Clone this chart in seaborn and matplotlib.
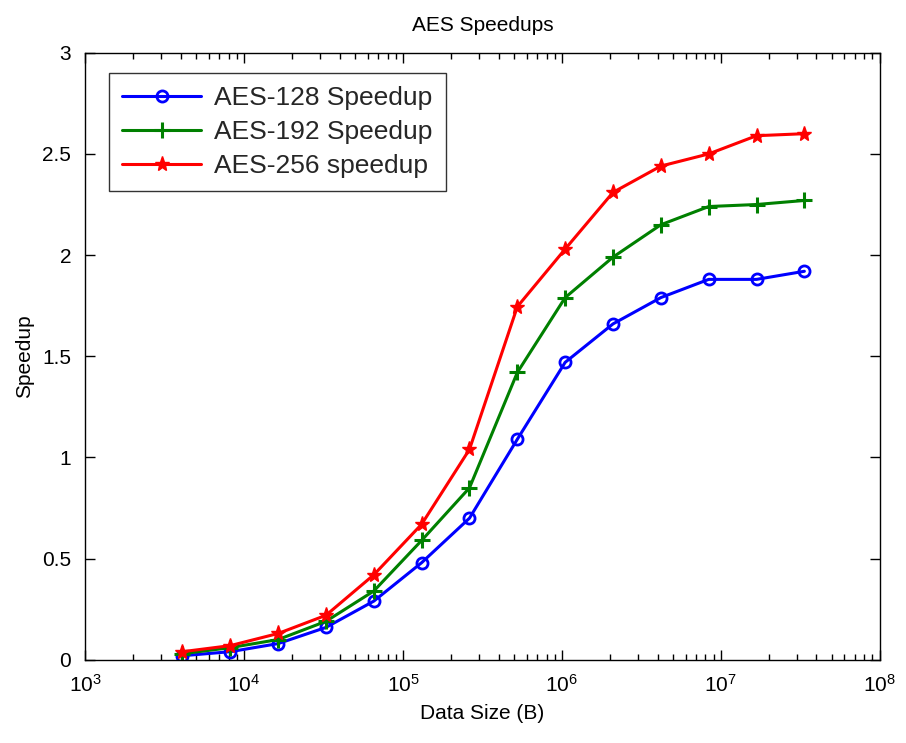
import matplotlib
matplotlib.use("Agg")
import matplotlib.pyplot as plt
import seaborn as sns
import numpy as np
import pandas as pd

sizes = [4096, 8192, 16384, 32768, 65536, 131072, 262144, 524288,
         1048576, 2097152, 4194304, 8388608, 16777216, 33554432]
aes128 = [0.02, 0.04, 0.08, 0.16, 0.29, 0.48, 0.70, 1.09, 1.47, 1.66, 1.79, 1.88, 1.88, 1.92]
aes192 = [0.03, 0.06, 0.10, 0.19, 0.34, 0.59, 0.85, 1.42, 1.79, 1.99, 2.15, 2.24, 2.25, 2.27]
aes256 = [0.04, 0.07, 0.13, 0.22, 0.42, 0.67, 1.04, 1.745, 2.03, 2.31, 2.44, 2.50, 2.59, 2.60]
labels = ["AES-128 Speedup", "AES-192 Speedup", "AES-256 speedup"]

sns.set_theme(style="white")
plt.rcParams['font.family'] = ['Liberation Sans', 'DejaVu Sans']

fig = plt.figure(figsize=(9.06, 7.43), dpi=100)
ax = fig.add_axes([0.094, 0.112, 0.877, 0.817])

series = [(aes128, labels[0], "#0000ff", "o", dict(markerfacecolor="none", markeredgewidth=2, markersize=8)),
          (aes192, labels[1], "#008000", "+", dict(markeredgewidth=2.2, markersize=11)),
          (aes256, labels[2], "#ff0000", "*", dict(markersize=11, markeredgewidth=1))]

for vals, lab, col, mk, kw in series:
    df = pd.DataFrame({"size": sizes, "speedup": vals})
    sns.lineplot(data=df, x="size", y="speedup", ax=ax, color=col, label=lab,
                 marker=mk, linewidth=2.2, markeredgecolor=col, **kw)

ax.set_xscale("log")
ax.set_xlim(1e3, 1e8)
ax.set_ylim(0, 3)
ax.set_yticks([0, 0.5, 1, 1.5, 2, 2.5, 3])
ax.set_yticklabels(["0", "0.5", "1", "1.5", "2", "2.5", "3"])
ax.set_xticks([1e3, 1e4, 1e5, 1e6, 1e7, 1e8])
ax.xaxis.set_minor_locator(matplotlib.ticker.LogLocator(base=10, subs=np.arange(2, 10), numticks=20))
ax.xaxis.set_minor_formatter(matplotlib.ticker.NullFormatter())
ax.tick_params(axis="both", which="both", direction="in", top=True, right=True,
               labelsize=15, colors="black", bottom=True, left=True)
ax.tick_params(axis="both", which="major", length=7, width=1)
ax.tick_params(axis="x", which="minor", length=4, width=1)
ax.tick_params(axis="x", which="major", pad=10)
ax.tick_params(axis="y", which="major", pad=10)
for s in ax.spines.values():
    s.set_color("black")
    s.set_linewidth(1)
ax.set_xlabel("Data Size (B)", fontsize=15, color="black", labelpad=6)
ax.set_ylabel("Speedup", fontsize=15, color="black", labelpad=6)
ax.set_title("AES Speedups", fontsize=15, color="black", pad=16)

leg = ax.legend(loc="upper left", fontsize=19, frameon=True, fancybox=False,
                edgecolor="black", borderaxespad=0.6, handlelength=3.0,
                handletextpad=0.5, labelspacing=0.38, borderpad=0.5,
                bbox_to_anchor=(0.01, 0.993))
leg.get_frame().set_linewidth(1)

fig.savefig("out.png", dpi=100, facecolor="white")
